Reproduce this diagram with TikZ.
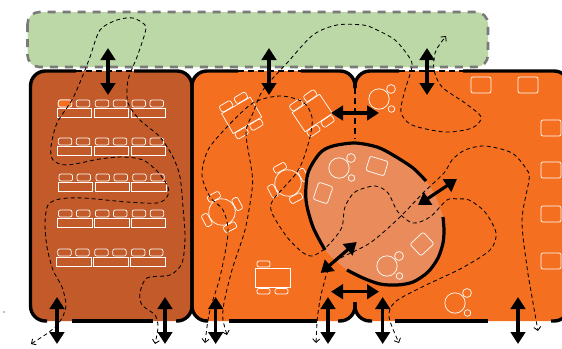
\documentclass[tikz,border=0pt]{standalone}
\usepackage{xcolor}
\usetikzlibrary{arrows.meta}
\definecolor{gardengreen}{HTML}{BBD8A6}
\definecolor{darkroom}{HTML}{C25A2A}
\definecolor{midroom}{HTML}{F47020}
\definecolor{lightroom}{HTML}{E98B5A}
\tikzset{
  wall/.style={line width=3.4pt,rounded corners=15pt},
  opening/.style={line width=1.6pt,dash pattern=on 6pt off 4pt},
  route/.style={line width=.85pt,dash pattern=on 4pt off 3pt,>={Straight Barb[length=3.5pt,width=7pt]}},
  door/.style={line width=3.2pt,{Triangle[length=12pt,width=14.5pt]}-{Triangle[length=12pt,width=14.5pt]}},
  furn/.style={draw=white,line width=.7pt},
  seat/.style={furn,rounded corners=2pt}
}
\begin{document}
\begin{tikzpicture}[x=1pt,y=-1pt]
\useasboundingbox (0,0) rectangle (562,348);
\fill[gray] (4,312) circle (.8);
\draw[fill=gardengreen,draw=black!52,line width=2.6pt,dash pattern=on 8pt off 7pt,rounded corners=12pt] (27.5,12) rectangle (488,67);

\fill[darkroom,rounded corners=15pt] (30,71) rectangle (192,321);
\fill[midroom,rounded corners=15pt] (192,71) rectangle (355,321);
\fill[midroom,rounded corners=15pt] (355,71) rectangle (569,321);
\fill[lightroom] plot[smooth cycle] coordinates {(325,250) (313,227) (306,200) (308,173) (320,153) (333,146) (355,143) (377,147) (393,155) (413,168) (426,181) (435,195) (443,217) (444,230) (443,243) (438,258) (428,272) (413,282) (397,285) (380,284) (363,278) (347,270)};

\foreach \rowx/\rowy in {57.3/108,57.3/146,58/182,57.5/218,56.7/257} {
  \foreach \tabx in {0,37,73.7} {
    \begin{scope}[shift={(\rowx+\tabx,\rowy)}]
    \draw[furn] (0,0) rectangle (34.5,9);
    \draw[seat] (1,-8) rectangle (14.5,-1);
    \draw[seat] (19,-8) rectangle (32.5,-1);
    \end{scope}
  }
}
\draw[seat,fill=midroom] (58.3,100) rectangle (71.8,107);

\foreach \tabx/\taby/\tabrot in {241.7/115.3/30,312.3/113/34} {
  \begin{scope}[shift={(\tabx,\taby)},rotate=\tabrot]
  \draw[furn] (-16.5,-11.5) rectangle (16.5,11.5);
  \foreach \chairx/\chairy in {-9/-15.5,8/-15.5,-9/15.5,8/15.5}
    \draw[seat] (\chairx-6.5,\chairy-3.5) rectangle (\chairx+6.5,\chairy+3.5);
  \end{scope}
}
\foreach \tabx/\taby in {222/212,288/183} {
  \begin{scope}[shift={(\tabx,\taby)},rotate=28]
  \draw[furn] (0,0) circle (13.3);
  \foreach \ang in {0,90,180,270}
    \draw[seat,rotate=\ang] (-6.5,-20.5) rectangle (6.5,-13.8);
  \end{scope}
}
\draw[furn] (255.7,268) rectangle (290.7,287);
\draw[seat] (257,261) rectangle (270,267);
\draw[seat] (257,288.5) rectangle (270,294);
\draw[seat] (275,288.5) rectangle (288,294);

\foreach \spotx/\spoty/\spotw/\spoth/\spotrot in {377/166/19/15/-17,323/193/15/18/-19,422/244/16/18/-47} {
  \draw[seat,shift={(\spotx,\spoty)},rotate=\spotrot] (-\spotw/2,-\spoth/2) rectangle (\spotw/2,\spoth/2);
}
\foreach \bubx/\buby in {339/168,387/266,379/99,455/303} {
  \draw[furn] (\bubx,\buby) circle (10.2);
  \draw[furn] (\bubx+12,\buby-10) circle (4.4);
  \draw[furn] (\bubx+12.5,\buby+10) circle (3.3);
}
\foreach \benchx/\benchy in {471/77,518/77,541/120,541/162,541/206,541/253} {
  \draw[seat] (\benchx,\benchy) rectangle (\benchx+20,\benchy+16);
}

\draw[wall] (47,321) -| (30.5,71) -- (76,71);
\draw[wall] (134,71) -| (192,321) -- (176,321);
\draw[wall] (238,71) -| (192,321) -- (208,321);
\draw[wall] (301,71) -| (355,88);
\draw[wall] (399,71) -| (355,88);
\draw[wall] (463,71) -| (569,90);
\draw[wall] (551,321) -| (569,300);
\draw[wall] (338,321) -| (355,302);
\draw[wall] (372,321) -| (355,302);
\draw[wall] (71.5,321) -- (153,321);
\draw[wall] (229,321) -- (317,321);
\draw[wall] (395,321) -- (488,321);
\draw[opening] (76,71) -- (134,71);
\draw[opening] (238,71) -- (301,71);
\draw[opening] (399,71) -- (463,71);
\draw[opening] (355,88) -- (355,139);

\draw[line width=3.2pt] plot[smooth] coordinates {(325,250) (313,227) (306,200) (308,173) (320,153) (333,146) (355,143) (377,147) (393,155) (413,168) (426,181)};
\draw[line width=3.2pt] plot[smooth] coordinates {(443,217) (444,230) (443,243) (438,258) (428,272) (413,282) (397,285) (380,284) (363,278) (347,270)};

\draw[route,<->] plot[smooth] coordinates {(31,344) (53,329) (62,318) (66,305) (62,287) (53,270) (47,247) (45,223) (48,205) (60,199) (83,198) (127,202) (157,203) (167,197) (168,187) (158,172) (143,160) (123,157) (100,159) (67,165) (53,160) (51,147) (57,123) (72,100) (83,75) (90,57) (100,30) (117,20) (133,18) (145,25) (145,33) (137,57) (128,80) (128,103) (140,120) (160,137) (173,157) (180,177) (183,207) (185,237) (182,263) (170,275) (147,278) (140,293) (142,305) (155,315) (158,327) (155,344)};
\draw[route,<->] plot[smooth] coordinates {(205,343) (210,310) (220,277) (228,233) (223,210) (210,197) (202,175) (208,150) (227,127) (253,103) (280,96) (303,102) (312,117) (310,137) (303,160) (295,175) (273,200) (272,213) (287,237) (302,252) (312,256) (323,250) (333,240) (342,227) (345,207) (355,192) (375,186) (388,193) (398,212) (413,223) (430,217) (447,200) (458,199) (469,200) (485,212) (496,233) (490,250) (462,268) (422,287) (395,302) (389,317) (399,343)};
\draw[route,<->] plot[smooth] coordinates {(227,335) (223,310) (232,270) (245,230) (252,190) (252,173) (246,133) (253,113) (263,90) (287,63) (313,35) (337,25) (363,25) (375,29) (395,40) (409,57) (412,67) (405,90) (401,112) (412,125) (445,132) (472,128) (481,117) (465,103) (442,87) (434,70) (435,53) (440,44) (446,36)};
\draw[route,<->] plot[smooth] coordinates {(316,343) (318,313) (323,287) (333,263) (370,243) (400,217) (423,193) (444,173) (452,160) (465,150) (485,146) (512,153) (527,170) (529,180) (522,220) (527,267) (532,297) (538,331)};

\foreach \doorx/\doory in {108/48,269/48,427/48,57/297,165/297,215.7/297,328/297,382.7/297,518/297} {
  \draw[door] (\doorx,\doory) -- (\doorx,\doory+47);
}
\draw[door] (331,113) -- (379,113);
\draw[door] (331,291.7) -- (379,291.7);
\draw[door] (320.7,273) -- (356.7,242);
\draw[door] (418,205) -- (457,179);
\end{tikzpicture}
\end{document}
